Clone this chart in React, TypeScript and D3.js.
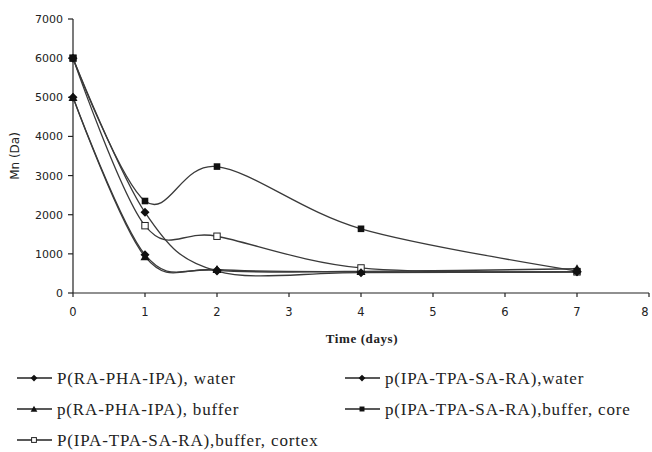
import React from "react";
import * as d3 from "d3";

const days = [0, 1, 2, 4, 7];
const xTicks = [0, 1, 2, 3, 4, 5, 6, 7, 8];
const yTicks = [0, 1000, 2000, 3000, 4000, 5000, 6000, 7000];

const seriesNames = [
  "P(RA-PHA-IPA), water",
  "p(RA-PHA-IPA), buffer",
  "P(IPA-TPA-SA-RA),buffer, cortex",
  "p(IPA-TPA-SA-RA),water",
  "p(IPA-TPA-SA-RA),buffer, core",
];
const raPhaWater = [5000, 980, 580, 540, 540];
const raPhaBuffer = [5000, 930, 600, 550, 620];
const ipaCortex = [6000, 1720, 1450, 640, 540];
const ipaWater = [6000, 2060, 560, 520, 540];
const ipaCore = [6000, 2350, 3230, 1640, 560];
const seriesValues = [raPhaWater, raPhaBuffer, ipaCortex, ipaWater, ipaCore];
const seriesMarkers = ["diamond", "triangle", "openSquare", "diamond", "square"];

const W = 652;
const H = 452;

function Marker({ type, x, y, s = 1 }: { type: string; x: number; y: number; s?: number }) {
  if (type === "diamond") {
    const r = 4.5 * s;
    return <path d={`M${x},${y - r}L${x + r},${y}L${x},${y + r}L${x - r},${y}Z`} fill="#111" />;
  }
  if (type === "triangle") {
    const r = 4.5 * s;
    return <path d={`M${x},${y - r}L${x + r},${y + r * 0.8}L${x - r},${y + r * 0.8}Z`} fill="#111" />;
  }
  if (type === "square") {
    const r = 3.3 * s;
    return <rect x={x - r} y={y - r} width={2 * r} height={2 * r} fill="#111" />;
  }
  const r = 3.2 * s;
  return <rect x={x - r} y={y - r} width={2 * r} height={2 * r} fill="#fff" stroke="#222" strokeWidth={1} />;
}

export default function App() {
  const x = d3.scaleLinear().domain([0, 8]).range([73, 649]);
  const y = d3.scaleLinear().domain([0, 7000]).range([293, 19]);
  const line = d3
    .line<number>()
    .x((_, i) => x(days[i]))
    .y((v) => y(v))
    .curve(d3.curveCardinal.tension(0));

  const legendPos = [
    { lx: 17, ly: 378 },
    { lx: 17, ly: 409 },
    { lx: 17, ly: 440 },
    { lx: 345, ly: 378 },
    { lx: 345, ly: 409 },
  ];

  return (
    <svg width={W} height={H} style={{ position: "absolute", left: 0, top: 0, background: "#fff" }}>
      <rect width={W} height={H} fill="#fff" />
      {/* axes */}
      <line x1={73} y1={y(7000)} x2={73} y2={y(0)} stroke="#222" strokeWidth={1.2} />
      <line x1={73} y1={y(0)} x2={x(8)} y2={y(0)} stroke="#222" strokeWidth={1.2} />
      {yTicks.map((t) => (
        <g key={"y" + t}>
          <line x1={68} x2={73} y1={y(t)} y2={y(t)} stroke="#222" strokeWidth={1.2} />
          <text x={63} y={y(t) + 4} textAnchor="end" fontFamily="DejaVu Sans" fontSize={11} fill="#222">
            {t}
          </text>
        </g>
      ))}
      {xTicks.map((t) => (
        <g key={"x" + t}>
          <line x1={x(t)} x2={x(t)} y1={y(0)} y2={y(0) + 4} stroke="#222" strokeWidth={1.2} />
          <text
            x={Math.min(x(t), W - 7)}
            y={316}
            textAnchor="middle"
            fontFamily="DejaVu Sans"
            fontSize={11.5}
            fill="#222"
          >
            {t}
          </text>
        </g>
      ))}
      <text
        transform={`translate(19,${(y(0) + y(7000)) / 2}) rotate(-90)`}
        textAnchor="middle"
        fontFamily="DejaVu Sans"
        fontSize={12}
        fill="#222"
      >
        Mn (Da)
      </text>
      <text x={362} y={343} textAnchor="middle" fontFamily="Liberation Serif" fontSize={13} fontWeight="bold" letterSpacing={0.6} fill="#222">
        Time (days)
      </text>

      {/* series */}
      {seriesValues.map((vals, si) => (
        <path key={"l" + si} d={line(vals) || ""} fill="none" stroke="#3a3a3a" strokeWidth={1.3} />
      ))}
      {seriesValues.map((vals, si) =>
        vals.map((v, i) => <Marker key={`m${si}-${i}`} type={seriesMarkers[si]} x={x(days[i])} y={y(v)} />)
      )}

      {/* legend */}
      {seriesNames.map((name, i) => {
        const p = legendPos[i];
        return (
          <g key={"lg" + i}>
            <line x1={p.lx} x2={p.lx + 35} y1={p.ly} y2={p.ly} stroke="#222" strokeWidth={1.5} />
            <Marker type={seriesMarkers[i]} x={p.lx + 17} y={p.ly} s={0.75} />
            <text x={p.lx + 40} y={p.ly + 6} fontFamily="Liberation Serif" fontSize={17} letterSpacing={0.85} fill="#222">
              {name}
            </text>
          </g>
        );
      })}
    </svg>
  );
}
